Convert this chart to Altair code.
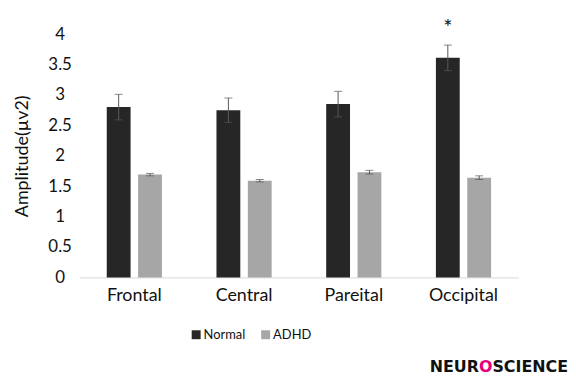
import altair as alt
import pandas as pd

regions = ["Frontal", "Central", "Pareital", "Occipital"]
groups = ["Normal", "ADHD"]
normal_mean = [2.80, 2.75, 2.85, 3.61]
normal_se = [0.21, 0.20, 0.21, 0.21]
adhd_mean = [1.69, 1.59, 1.73, 1.64]
adhd_se = [0.02, 0.02, 0.03, 0.03]
star_region = ["Occipital"]
star_group = ["Normal"]
star_y = [3.98]
star_text = ["*"]
y_ticks = [0, 0.5, 1, 1.5, 2, 2.5, 3, 3.5, 4]
colors = ["#262626", "#a6a6a6"]

rows = []
for i, r in enumerate(regions):
    rows.append({"region": r, "group": "Normal", "value": normal_mean[i], "err": normal_se[i]})
    rows.append({"region": r, "group": "ADHD", "value": adhd_mean[i], "err": adhd_se[i]})
df = pd.DataFrame(rows)
df["lo"] = df["value"] - df["err"]
df["hi"] = df["value"] + df["err"]

star_df = pd.DataFrame({"region": star_region, "group": star_group, "y": star_y, "label": star_text})

FONT = "Lato"
YTITLE = "Amplitude(µv2)"

xaxis = alt.Axis(labelAngle=0, ticks=False, tickSize=0, domainColor="#d9d9d9",
                 domainWidth=1, labelFont=FONT, labelFontSize=18,
                 labelColor="#111111", labelPadding=9)
xscale = alt.Scale(paddingInner=0.497, paddingOuter=0.2485)
xenc = alt.X("region:N", sort=regions, title=None, scale=xscale, axis=xaxis)
xoff = alt.XOffset("group:N", sort=groups,
                   scale=alt.Scale(domain=groups, paddingInner=0.24, paddingOuter=0))
yscale = alt.Scale(domain=[0, 4], nice=False)
yaxis = alt.Axis(values=y_ticks, format=".1~f", grid=False, domain=False, ticks=False,
                 tickSize=0, labelAlign="center", labelPadding=20, labelFont=FONT,
                 labelFontSize=17, labelColor="#111111", labelOverlap=False,
                 labelFlush=False, titleFont=FONT,
                 titleFontSize=18, titleFontWeight="normal", titleColor="#111111",
                 titlePadding=16)


def Y(field):
    return alt.Y(field, scale=yscale, axis=yaxis, title=YTITLE)


base = alt.Chart(df).encode(x=xenc, xOffset=xoff)

bars = base.mark_bar().encode(
    y=Y("value:Q"),
    color=alt.Color("group:N", sort=groups,
                    scale=alt.Scale(domain=groups, range=colors),
                    legend=alt.Legend(orient="none", legendX=111, legendY=296,
                                      direction="horizontal", title=None,
                                      symbolType="square", symbolSize=81,
                                      symbolStrokeWidth=0, labelFont=FONT,
                                      labelFontSize=13, labelColor="#111111",
                                      columnPadding=13, labelOffset=1)),
)

rules = base.mark_rule(color="#595959", strokeWidth=1).encode(y=Y("lo:Q"), y2="hi:Q")
cap_lo = base.mark_tick(color="#595959", size=8, thickness=1).encode(y=Y("lo:Q"))
cap_hi = base.mark_tick(color="#595959", size=8, thickness=1).encode(y=Y("hi:Q"))

star = alt.Chart(star_df).mark_text(font=FONT, fontSize=22, color="#111111",
                                    baseline="alphabetic").encode(
    x=xenc,
    xOffset=xoff,
    y=Y("y:Q"),
    text="label:N",
)

logo_font = "DejaVu Sans"
logo_y = 340
logo1 = alt.Chart(star_df).mark_text(text="NEUR", font=logo_font, fontWeight="bold",
                                     fontSize=16, align="left", baseline="alphabetic",
                                     color="#111111").encode(x=alt.value(352.7), y=alt.value(logo_y))
logo2 = alt.Chart(star_df).mark_text(text="O", font=logo_font, fontWeight="bold",
                                     fontSize=16, align="left", baseline="alphabetic",
                                     color="#e6007e").encode(x=alt.value(402.3), y=alt.value(logo_y))
logo3 = alt.Chart(star_df).mark_text(text="SCIENCE", font=logo_font, fontWeight="bold",
                                     fontSize=16, align="left", baseline="alphabetic",
                                     color="#111111").encode(x=alt.value(415.9), y=alt.value(logo_y))

chart = alt.layer(bars, rules, cap_lo, cap_hi, star, logo1, logo2, logo3).properties(
    width=442, height=245,
    padding={"left": 72, "top": 25, "right": 50, "bottom": 101},
    autosize="none",
    background="white",
).configure_view(stroke=None)

chart.save("out.html", embed_options={"renderer": "svg", "actions": False})
